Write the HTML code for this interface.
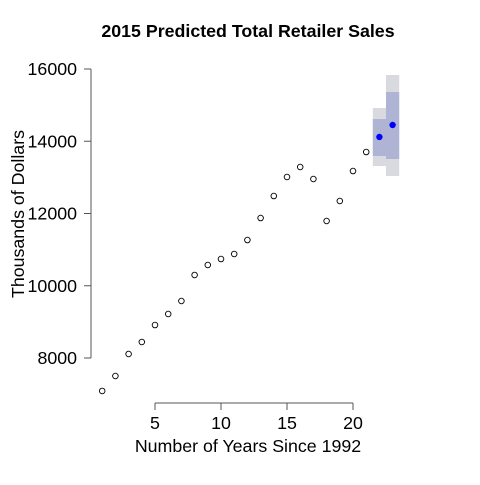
<!DOCTYPE html>
<html><head><meta charset="utf-8"><style>body{margin:0;background:#fff}svg text{font-family:"Liberation Sans",sans-serif}</style></head>
<body>
<svg id="c" width="480" height="480">
<text x="248" y="37" text-anchor="middle" font-size="17.8" font-weight="bold">2015 Predicted Total Retailer Sales</text>
<text x="248" y="452" text-anchor="middle" font-size="17.8">Number of Years Since 1992</text>
<text transform="translate(24,214) rotate(-90)" text-anchor="middle" font-size="17.8">Thousands of Dollars</text>
<g id="g"></g>
</svg>
<script>
const years=[1,2,3,4,5,6,7,8,9,10,11,12,13,14,15,16,17,18,19,20,21];
const sales=[7087,7502,8111,8443,8913,9218,9578,10298,10574,10740,10879,11266,11875,12484,13010,13287,12955,11792,12346,13176,13702];
const predYears=[22,23];
const predFit=[14118,14450];
const predLo=[13592,13509];
const predHi=[14616,15363];
const outerLo=[13315,13038];
const outerHi=[14920,15834];
const xTicks=[5,10,15,20];
const yTicks=[8000,10000,12000,14000,16000];
const ns="http://www.w3.org/2000/svg";
const g=document.getElementById('g');
const X=v=>102.2+(v-1)*13.2;
const Y=v=>358-(v-8000)*0.036125;
function mk(t,a){const e=document.createElementNS(ns,t);for(const k in a)e.setAttribute(k,a[k]);g.appendChild(e);return e;}
predYears.forEach((yr,i)=>{
 let r=mk('rect',{x:X(yr)-6.6,y:Y(outerHi[i]),width:13.2,height:Y(outerLo[i])-Y(outerHi[i]),fill:'#d9d9e0'});
 
 
 let r2=mk('rect',{x:X(yr)-6.6,y:Y(predHi[i]),width:13.2,height:Y(predLo[i])-Y(predHi[i]),fill:'#b0b4d4'});
 
 
});
predYears.forEach((yr,i)=>{
 let c=mk('circle',{cx:X(yr),cy:Y(predFit[i]),r:3.2,fill:'#0000ff'});
 
 
});
years.forEach((yr,i)=>{
 let c=mk('circle',{cx:X(yr),cy:Y(sales[i]),r:2.8,fill:'none',stroke:'#000','stroke-width':0.9});
 
 
});
let xa=mk('path',{d:`M${X(xTicks[0])},403H${X(xTicks[xTicks.length-1])}`,stroke:'#555',fill:'none'});


xTicks.forEach(t=>{
 mk('path',{d:`M${X(t)},403v7`,stroke:'#555'});
 let tx=mk('text',{x:X(t),y:429,'text-anchor':'middle','font-size':17.8});tx.textContent=t;
 
 
});
let ya=mk('path',{d:`M91,${Y(yTicks[0])}V${Y(yTicks[yTicks.length-1])}`,stroke:'#555',fill:'none'});


yTicks.forEach(t=>{
 mk('path',{d:`M84,${Y(t)}h7`,stroke:'#555'});
 let tx=mk('text',{x:77,y:Y(t)+6,'text-anchor':'end','font-size':17.8});tx.textContent=t;
 
 
});
</script>
</body></html>
